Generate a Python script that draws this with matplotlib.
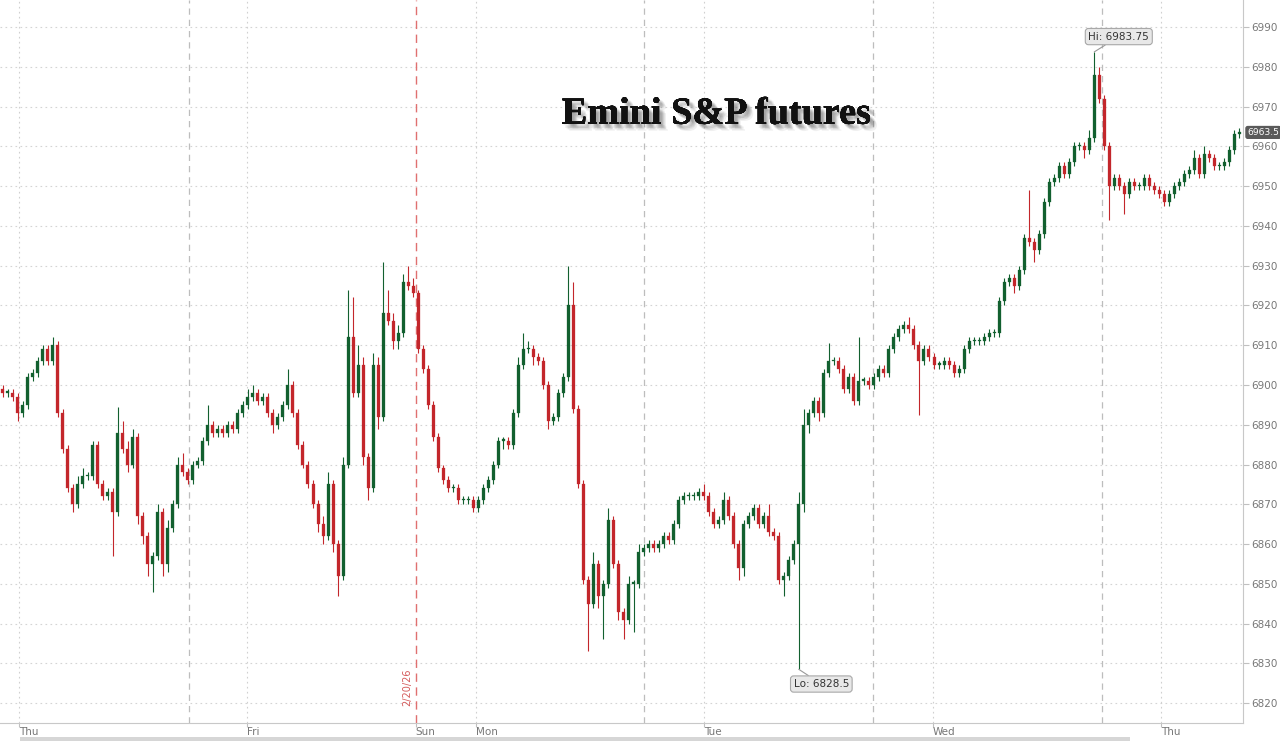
#!/usr/bin/env python3
"""
Emini S&P futures - 30 minute candles, Thu to Thu (trading hours only).
"""

import matplotlib

matplotlib.use("Agg")
import matplotlib.pyplot as plt
import matplotlib.patheffects as pe
import matplotlib.transforms as mtransforms
from matplotlib.patches import Rectangle

# closes of each 30 min bar
closes = [
    6898, 6898, 6897, 6893, 6895, 6902, 6903, 6906, 6909, 6906,
    6910, 6893, 6884, 6874, 6870, 6875, 6877, 6877, 6885, 6875,
    6872, 6873, 6868, 6888, 6884, 6880, 6887, 6867, 6862, 6855,
    6857, 6868, 6855, 6864, 6870, 6880, 6878, 6876, 6880, 6881,
    6886, 6890, 6888, 6889, 6888, 6890, 6889, 6893, 6895, 6897,
    6898, 6896, 6897, 6893, 6890, 6892, 6895, 6900, 6893, 6885,
    6880, 6875, 6870, 6865, 6862, 6875, 6860, 6852, 6880, 6912,
    6898, 6905, 6882, 6874, 6905, 6892, 6918, 6916, 6911, 6913,
    6926, 6925, 6923, 6909, 6904, 6895, 6887, 6879, 6876, 6874,
    6874, 6871, 6871, 6871, 6869, 6871, 6874, 6876, 6880, 6886,
    6886, 6885, 6893, 6905, 6909, 6909, 6907, 6906, 6900, 6891,
    6892, 6898, 6902, 6920, 6894, 6875, 6851, 6845, 6855, 6847,
    6850, 6866, 6855, 6843, 6841, 6850, 6850, 6858, 6859, 6860,
    6859, 6860, 6862, 6861, 6865, 6871, 6872, 6872, 6872, 6873,
    6872, 6868, 6865, 6866, 6871, 6867, 6860, 6854, 6865, 6867,
    6869, 6865, 6867, 6863, 6862, 6851, 6852, 6856, 6860, 6870,
    6890, 6893, 6896, 6893, 6903, 6906, 6906, 6904, 6899, 6902,
    6896, 6901, 6901, 6900, 6902, 6904, 6903, 6909, 6912, 6914,
    6915, 6914, 6910, 6906, 6909, 6907, 6905, 6905, 6906, 6905,
    6903, 6904, 6909, 6911, 6911, 6911, 6912, 6913, 6913, 6921,
    6926, 6927, 6925, 6929, 6937, 6936, 6934, 6938, 6946, 6951,
    6952, 6955, 6953, 6956, 6960, 6960, 6959, 6962, 6978, 6972,
    6960, 6950, 6952, 6950, 6948, 6951, 6950, 6950, 6952, 6950,
    6949, 6948, 6946, 6948, 6950, 6951, 6953, 6954, 6957, 6953,
    6958, 6957, 6955, 6955, 6956, 6959, 6963, 6963.5,
]
first_open = 6899

# wick length above / below the candle body
wick_up = [
    1, 1, 1, 1, 1, 1, 1, 1, 1, 1,
    2, 1, 1, 1, 1, 2, 2, 1, 1, 1,
    1, 1, 1, 6.5, 3, 2, 2, 1, 1, 1,
    1, 2, 1, 2, 1, 2, 3, 1, 1, 1,
    1, 5, 1, 1, 1, 1, 1, 1, 1, 2,
    2, 1, 1, 1, 1, 1, 1, 4, 1, 1,
    1, 1, 1, 1, 2, 3, 1, 1, 2, 12,
    10, 5, 2, 1, 3, 2, 13, 6, 2, 2,
    2, 4, 2, 1, 1, 1, 1, 1, 1, 1,
    1, 1, 1, 1, 1, 1, 1, 1, 1, 1,
    1, 1, 1, 2, 4, 2, 1, 1, 1, 1,
    1, 1, 1, 10, 6, 1, 1, 1, 3, 1,
    1, 3, 1, 1, 1, 2, 1, 2, 1, 1,
    1, 1, 1, 1, 1, 1, 1, 1, 1, 1,
    2, 1, 1, 1, 2, 1, 1, 1, 1, 1,
    1, 1, 1, 3, 1, 1, 1, 1, 1, 3,
    4, 1, 1, 1, 1, 4.5, 1, 1, 1, 1,
    1, 11, 1, 1, 1, 1, 1, 1, 1, 1,
    1, 2, 1, 1, 1, 1, 1, 1, 1, 1,
    1, 1, 1, 1, 1, 1, 1, 1, 1, 1,
    1, 1, 1, 1, 1, 12, 1, 1, 1, 1,
    1, 1, 1, 1, 1, 1, 1, 2, 5.75, 2,
    1, 1, 1, 1, 1, 1, 1, 1, 1, 1,
    1, 1, 1, 1, 1, 1, 1, 1, 2, 1,
    2, 1, 1, 1, 1, 1, 1, 1,
]
wick_dn = [
    1, 1, 1, 2, 1, 1, 1, 1, 1, 1,
    1, 1, 1, 1, 2, 1, 1, 1, 1, 1,
    1, 1, 11, 1, 1, 2, 1, 2, 2, 3,
    7, 1, 3, 2, 1, 1, 1, 1, 1, 1,
    1, 1, 1, 1, 1, 1, 1, 1, 1, 1,
    1, 1, 1, 1, 2, 1, 1, 1, 1, 1,
    1, 1, 1, 2, 2, 1, 2, 5, 1, 1,
    1, 1, 2, 3, 1, 3, 1, 1, 2, 2,
    1, 1, 1, 1, 1, 1, 1, 1, 1, 1,
    1, 1, 1, 1, 1, 1, 1, 1, 1, 1,
    2, 1, 1, 1, 1, 1, 2, 1, 1, 2,
    1, 1, 1, 1, 1, 1, 1, 12, 1, 3,
    11, 1, 1, 2, 5, 1, 12, 1, 1, 1,
    1, 1, 1, 1, 1, 1, 1, 1, 1, 1,
    1, 1, 1, 1, 1, 1, 1, 3, 2, 1,
    1, 1, 1, 1, 1, 1, 4, 1, 1, 31.5,
    2, 2, 1, 2, 1, 1, 1, 1, 1, 1,
    1, 1, 1, 1, 1, 1, 1, 1, 1, 1,
    1, 1, 1, 13.6, 1, 1, 1, 1, 1, 1,
    1, 1, 1, 1, 1, 1, 1, 1, 1, 1,
    1, 1, 2, 1, 1, 1, 3, 1, 1, 1,
    1, 1, 1, 1, 1, 1, 2, 1, 1, 1,
    1, 8.5, 1, 1, 5, 1, 1, 1, 1, 1,
    1, 1, 1, 1, 1, 1, 1, 1, 1, 1,
    1, 1, 1, 1, 1, 1, 1, 1,
]

# x axis in trading hours from the left edge
bar_hours = 0.5
day_labels = ["Thu", "Fri", "Sun", "Mon", "Tue", "Wed", "Thu"]
day_pos = [1.9, 24.7, 41.5, 47.5, 70.3, 93.1, 115.9]
session_starts = [18.9, 64.3, 87.2, 110.0]
weekend_break = 41.5
weekend_label = "2/20/26"
y_ticks = list(range(6820, 7000, 10))

hi_value, hi_bar = 6983.75, 218
lo_value, lo_bar = 6828.5, 159
last_value = 6963.5

UP = "#12602f"
DOWN = "#c3262b"

fig = plt.figure(figsize=(12.8, 7.41), dpi=100)
ax = fig.add_axes([0, 18 / 741, 1243 / 1280, 723 / 741])
ax.set_xlim(0, 124.1)
ax.set_ylim(6815.0, 6996.8)

# grid
for y in y_ticks:
    ax.axhline(y, color="#d4d4d4", lw=0.8, ls=(0, (1.5, 3)), zorder=0)
for x in day_pos:
    if x != weekend_break:
        ax.axvline(x, color="#d0d0d0", lw=0.8, ls=(0, (1.5, 3)), zorder=0)
for x in session_starts:
    ax.axvline(x, color="#bdbdbd", lw=0.9, ls=(0, (5, 4)), zorder=0)
ax.axvline(weekend_break, color="#e07070", lw=1.0, ls=(0, (6, 4)), zorder=0)
ax.text(weekend_break - 0.35, 6819.4, weekend_label, rotation=90, color="#d45a5a",
        fontsize=7, ha="right", va="bottom")

# candles
opens = [first_open] + closes[:-1]
times = [bar_hours * i + bar_hours / 2 for i in range(len(closes))]
for t, o, c, wu, wd in zip(times, opens, closes, wick_up, wick_dn):
    color = UP if c >= o else DOWN
    top, bot = max(o, c), min(o, c)
    ax.vlines(t, bot - wd, top + wu, color=color, lw=0.8, zorder=2)
    ax.bar(t, max(top - bot, 0.4), bottom=bot, width=0.3, color=color,
           edgecolor=color, lw=0.2, zorder=3)

# hi / lo flags
box = dict(boxstyle="round,pad=0.3,rounding_size=0.3", fc="#e8e8e8", ec="#a8a8a8", lw=0.8)
ax.annotate(f"Hi: {hi_value}", xy=(times[hi_bar], hi_value), xytext=(111.7, 6987.6),
            fontsize=7.5, color="#333333", ha="center", va="center", bbox=box,
            arrowprops=dict(arrowstyle="-", color="#999999", lw=0.8,
                            shrinkA=0, shrinkB=0), zorder=5)
ax.annotate(f"Lo: {lo_value}", xy=(times[lo_bar], lo_value), xytext=(82.0, 6824.8),
            fontsize=7.5, color="#333333", ha="center", va="center", bbox=box,
            arrowprops=dict(arrowstyle="-", color="#999999", lw=0.8,
                            shrinkA=0, shrinkB=0), zorder=5)

# last price flag on the axis
trans = mtransforms.blended_transform_factory(ax.transAxes, ax.transData)
ax.text(1.0035, last_value, f"{last_value}", transform=trans, fontsize=6.6,
        color="white", ha="left", va="center", clip_on=False, zorder=6,
        bbox=dict(boxstyle="round,pad=0.15,rounding_size=0.2", fc="#5a5a5a", ec="#5a5a5a"))

# title with a soft shadow (several faint offset copies)
shadow = [pe.withSimplePatchShadow(offset=(dx, dy), shadow_rgbFace="#606060", alpha=0.09)
          for dx, dy in [(1, -1), (2, -2), (3, -3), (4, -4), (3, -2), (2, -3), (4, -3), (3, -4), (5, -5)]]
ax.text(0.5765, 0.842, "Emini S&P futures", transform=ax.transAxes,
        fontsize=27.5, fontweight="bold", family="Liberation Serif", color="#111111",
        ha="center", va="center", zorder=6,
        path_effects=shadow + [pe.Normal()])

# axes styling
ax.yaxis.tick_right()
ax.set_yticks(y_ticks)
ax.set_xticks(day_pos)
ax.set_xticklabels(day_labels)
for lbl in ax.get_xticklabels():
    lbl.set_horizontalalignment("left")
ax.tick_params(axis="y", length=4, width=0.8, color="#c0c0c0", labelsize=7.5,
               labelcolor="#777777", pad=2)
ax.tick_params(axis="x", length=3, width=0.8, color="#c0c0c0", labelsize=7.5,
               labelcolor="#777777", pad=0)
for side in ["top", "left"]:
    ax.spines[side].set_visible(False)
ax.spines["right"].set_color("#c8c8c8")
ax.spines["bottom"].set_color("#c8c8c8")
ax.set_facecolor("white")

# navigator strip at the very bottom
fig.patches.append(Rectangle((20 / 1280, 0), 1110 / 1280, 4 / 741, transform=fig.transFigure,
                             fc="#d6d6d6", ec="none"))

fig.savefig("out.png", dpi=100)
